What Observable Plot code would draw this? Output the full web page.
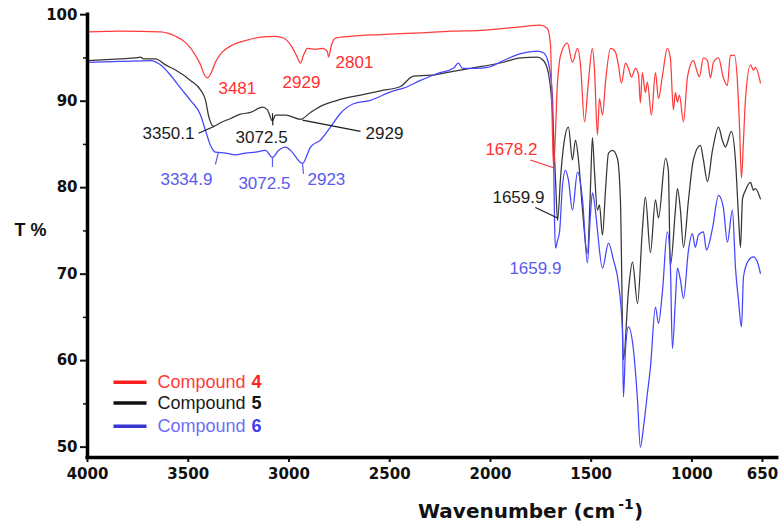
<!DOCTYPE html>
<html><head><meta charset="utf-8">
<script src="https://cdn.jsdelivr.net/npm/d3@7"></script>
<script src="https://cdn.jsdelivr.net/npm/@observablehq/plot@0.6"></script>
<style>html,body{margin:0;padding:0;background:#fff} svg{display:block}</style>
</head><body><div id="chart"></div>
<script>
// [wavenumber cm-1, transmittance %]
const compound4 = [[4000,98.0],[3836,98.1],[3638,98.0],[3563,97.5],[3514,96.8],[3464,95.3],[3439,94.2],[3419,93.0],[3404,92.7],[3380,93.6],[3365,94.5],[3330,95.7],[3280,96.5],[3216,97.0],[3141,97.4],[3067,97.5],[3027,97.3],[2992,96.5],[2963,95.3],[2943,94.4],[2928,95.3],[2908,96.1],[2868,96.0],[2834,96.1],[2809,95.7],[2804,95.1],[2789,96.5],[2769,97.3],[2695,97.5],[2546,97.7],[2347,97.9],[2198,98.1],[2050,98.2],[1851,98.6],[1752,98.8],[1717,98.4],[1702,96.5],[1687,82.3],[1667,92.2],[1652,95.3],[1618,96.7],[1593,94.5],[1568,96.1],[1553,94.2],[1533,87.6],[1514,92.2],[1494,96.1],[1484,93.8],[1469,86.1],[1459,90.3],[1444,88.4],[1429,92.2],[1404,96.1],[1380,95.7],[1365,94.2],[1350,92.1],[1330,94.4],[1315,93.8],[1300,92.8],[1280,93.8],[1265,93.0],[1256,89.8],[1246,93.3],[1231,91.0],[1221,92.2],[1201,88.4],[1181,93.3],[1166,90.3],[1146,93.0],[1122,96.1],[1107,95.0],[1092,89.0],[1082,91.0],[1072,89.9],[1062,90.7],[1042,87.6],[1022,92.8],[993,94.7],[973,93.3],[963,92.8],[943,95.0],[923,94.7],[908,92.7],[893,94.5],[868,95.0],[844,92.7],[824,91.8],[809,95.3],[789,95.3],[774,92.2],[764,87.2],[754,81.1],[744,85.5],[734,90.3],[709,94.2],[695,93.6],[685,93.9],[660,92.1]];

const compound5 = [[4000,94.7],[3836,94.9],[3762,95.0],[3737,95.1],[3722,94.9],[3663,94.9],[3613,94.2],[3563,93.6],[3489,92.4],[3439,91.3],[3414,90.1],[3400,88.4],[3375,87.1],[3340,87.5],[3290,88.0],[3241,88.5],[3191,88.7],[3131,89.3],[3107,89.0],[3082,87.7],[3067,88.4],[3017,88.4],[2943,87.9],[2893,88.7],[2844,89.4],[2744,90.2],[2645,90.7],[2546,91.2],[2447,91.7],[2382,92.9],[2298,93.0],[2198,93.4],[2099,93.8],[1935,94.5],[1851,95.0],[1767,95.1],[1737,94.7],[1712,93.2],[1692,88.6],[1677,80.9],[1667,76.2],[1652,81.2],[1633,85.5],[1613,87.0],[1593,83.2],[1578,85.5],[1563,83.2],[1543,77.4],[1519,72.4],[1504,79.7],[1494,85.8],[1484,82.0],[1469,77.4],[1459,78.0],[1444,74.5],[1429,79.7],[1414,84.0],[1394,84.3],[1370,83.4],[1355,78.6],[1340,60.1],[1315,68.1],[1295,71.4],[1270,66.6],[1246,75.1],[1231,78.9],[1206,72.5],[1181,78.6],[1166,76.5],[1131,83.4],[1117,82.0],[1107,71.0],[1082,77.4],[1072,79.9],[1057,77.4],[1042,73.1],[1017,78.6],[993,83.2],[958,84.9],[943,83.2],[923,80.7],[898,84.3],[868,87.0],[849,85.5],[834,84.7],[804,86.5],[784,83.2],[769,76.8],[759,73.1],[749,78.7],[734,79.7],[709,80.6],[695,79.7],[685,79.9],[660,78.7]];

const compound6 = [[4000,94.5],[3836,94.6],[3687,94.7],[3638,94.2],[3588,93.0],[3538,91.5],[3489,90.1],[3439,88.4],[3414,86.6],[3390,84.9],[3365,84.1],[3315,84.0],[3266,83.8],[3216,84.0],[3166,84.1],[3117,84.3],[3082,83.5],[3052,84.3],[3017,84.7],[2992,84.3],[2933,82.8],[2893,84.7],[2844,85.5],[2794,87.0],[2744,88.6],[2680,89.7],[2596,90.1],[2482,91.2],[2432,91.5],[2347,92.4],[2263,93.2],[2184,93.8],[2159,94.4],[2139,93.8],[2074,93.8],[2015,93.9],[1935,94.7],[1851,95.5],[1767,95.8],[1737,95.6],[1712,94.4],[1692,90.5],[1687,84.3],[1682,76.2],[1677,73.0],[1667,73.9],[1657,74.9],[1643,80.1],[1628,82.0],[1613,80.9],[1593,77.4],[1568,81.8],[1543,78.6],[1519,71.3],[1504,76.8],[1494,79.4],[1479,77.4],[1469,75.1],[1444,70.7],[1414,73.6],[1389,71.6],[1365,69.0],[1345,63.5],[1340,55.8],[1330,61.2],[1315,63.9],[1290,61.2],[1270,55.4],[1256,50.0],[1241,52.2],[1221,56.2],[1206,59.2],[1181,66.2],[1166,64.3],[1146,68.1],[1122,74.9],[1107,71.0],[1097,61.4],[1082,67.0],[1072,70.7],[1057,69.3],[1042,67.2],[1017,72.8],[998,74.7],[983,73.1],[968,74.5],[943,74.9],[928,72.8],[898,75.3],[868,79.1],[844,77.7],[824,73.7],[799,77.4],[784,70.8],[769,67.0],[754,63.9],[744,69.7],[719,71.6],[695,72.0],[675,71.4],[660,70.1]];

// peak annotations
const annotText   = ["3481","2929","2801","3350.1","3072.5","2929","3334.9","3072.5","2923","1678.2","1659.9","1659.9"];
const annotWn     = [3350, 3032, 2769, 3727, 3265, 2620, 3638, 3251, 2908, 2025, 1990, 1906];
const annotT      = [91.5, 92.2, 94.5, 86.3, 85.8, 86.3, 80.9, 80.5, 80.9, 84.4, 78.9, 70.7];
const annotSeries = ["4","4","4","5","5","5","6","6","6","4","5","6"];

// leader lines [series, wn1, T1, wn2, T2]
const leaders = [["4",1802,83.2,1687,82.3],["5",1777,77.7,1667,76.5],["5",3449,86.3,3370,87.1],["5",2933,87.8,2645,86.5],["5",3082,88.6,3080,87.2],["6",3350,84.1,3365,82.7],["6",3082,83.5,3082,82.4],["6",2933,82.8,2928,81.6]];

const xTicks = [4000,3500,3000,2500,2000,1500,1000,650];
const yTicks = [50,60,70,80,90,100];
const yMinor = [55,65,75,85,95];
const seriesIds = ["4","5","6"];
const seriesNames = ["Compound ","Compound ","Compound "];

const lineColor = {"4":"#ff3b3b","5":"#363636","6":"#4444ff"};
const textColor = {"4":"#ff2f2f","5":"#1c1c1c","6":"#5a5af0"};
const legendLine = {"4":"#ff1f1f","5":"#111111","6":"#3535d0"};
const legendText = {"4":"#ff3a3a","5":"#1a1a1a","6":"#6d6dfa"};
const legendNum = {"4":"#ff2020","5":"#111111","6":"#4040e8"};
const legendY = {"4":57.5,"5":55.1,"6":52.4};

const toRows = (id, arr) => arr.map(([w,t]) => ({id, w, t}));
const data = {"4":toRows("4",compound4),"5":toRows("5",compound5),"6":toRows("6",compound6)};
const annots = annotText.map((s,i) => ({s, w:annotWn[i], t:annotT[i], id:annotSeries[i]}));
const leaderRows = leaders.map(([id,w1,t1,w2,t2]) => ({id,w1,t1,w2,t2}));

const sans = "'Liberation Sans', Arial, sans-serif";
const marks = [];
// spectra: black, blue, red
for (const id of ["5","6","4"]) {
  marks.push(Plot.line(data[id], {x:"w", y:"t", stroke:lineColor[id], strokeWidth:1.25, curve:"monotone-x"}));
}
for (const id of seriesIds) {
  marks.push(Plot.link(leaderRows.filter(d=>d.id===id), {x1:"w1", y1:"t1", x2:"w2", y2:"t2", stroke:textColor[id], strokeWidth:1.2}));
  marks.push(Plot.text(annots.filter(d=>d.id===id), {x:"w", y:"t", text:"s", textAnchor:"start", fill:textColor[id], fontSize:17, fontFamily:sans}));
}
// legend
seriesIds.forEach((id, i) => {
  marks.push(Plot.link([id], {x1:3871, x2:3707, y1:legendY[id], y2:legendY[id], stroke:legendLine[id], strokeWidth:3.5}));
  marks.push(Plot.text([seriesNames[i]], {x:3653, y:legendY[id], text:d=>d, textAnchor:"start", fill:legendText[id], fontSize:18, fontFamily:sans}));
  marks.push(Plot.text([id], {x:3653, y:legendY[id], dx:94, text:d=>d, textAnchor:"start", fill:legendNum[id], fontSize:18, fontWeight:"bold", fontFamily:sans}));
});
// axes
marks.push(Plot.axisX({ticks:xTicks, tickSize:5, tickPadding:6, strokeWidth:2, tickFormat:d=>String(d), fontSize:15, fontWeight:"bold", fill:"#111", label:null}));
marks.push(Plot.axisY({ticks:yTicks, tickSize:7, tickPadding:3, strokeWidth:2, tickFormat:d=>String(d), fontSize:15, fontWeight:"bold", fill:"#111", label:null}));
marks.push(Plot.axisY({ticks:yMinor, tickSize:4, strokeWidth:1.5, tickFormat:()=>"", label:null}));
marks.push(Plot.ruleX([4000], {y1:48.75, y2:100.2, stroke:"#000", strokeWidth:3.5}));
marks.push(Plot.ruleY([48.8], {x1:4008, x2:568, stroke:"#000", strokeWidth:3.5}));
marks.push(Plot.text(["T %"], {frameAnchor:"left", dx:-73, dy:-3, text:d=>d, textAnchor:"start", fontSize:18, fontWeight:"bold", fontFamily:sans, fill:"#111"}));

const plot = Plot.plot({
  width:780, height:524,
  marginLeft:87, marginRight:10, marginTop:9, marginBottom:67,
  x:{domain:[4000,610], label:null},
  y:{domain:[48.8,100.6], label:null},
  style:{fontFamily:"'DejaVu Sans', sans-serif", background:"#fff", color:"#111"},
  marks
});
document.getElementById("chart").appendChild(plot);

// x-axis title with superscript
const svg = d3.select(plot);
const t = svg.append("text").attr("x",418).attr("y",518).attr("text-anchor","start")
  .attr("font-family","'DejaVu Sans', sans-serif").attr("font-weight","bold")
  .attr("font-size",20).attr("fill","#111");
t.append("tspan").text("Wavenumber (cm");
t.append("tspan").attr("dx",3).attr("dy",-9).attr("font-size",14).text("-1");
t.append("tspan").attr("dy",9).text(")");
</script>
</body></html>
